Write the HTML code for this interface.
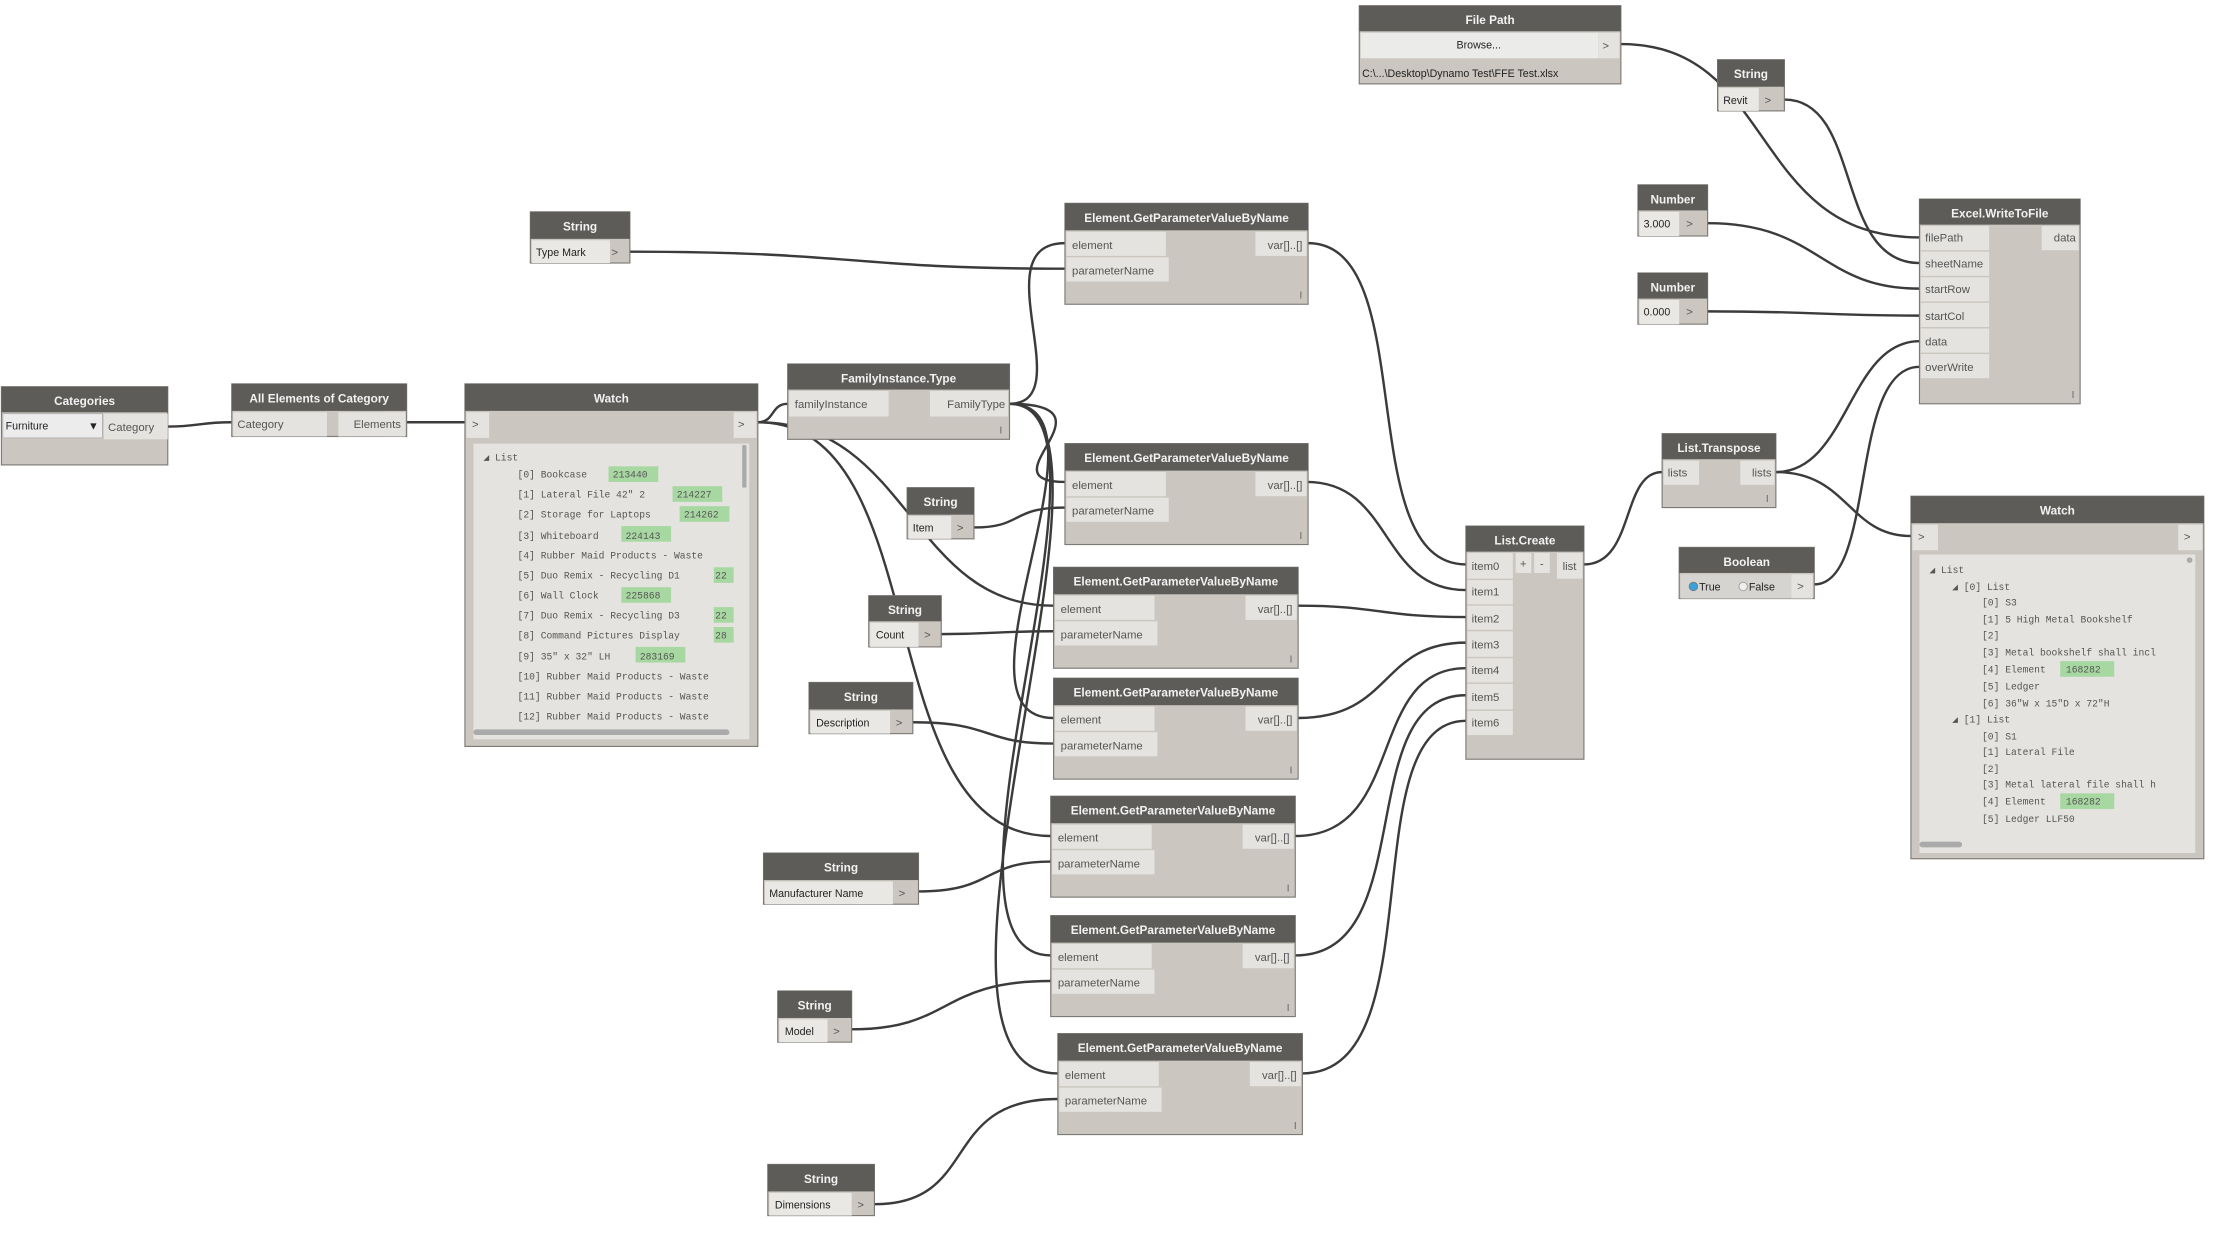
<!DOCTYPE html>
<html><head><meta charset="utf-8"><style>
html,body{margin:0;padding:0;background:#fff;}
svg{display:block;}
.h{font:bold 8.3px "Liberation Sans",sans-serif;fill:#f2f2f2;text-anchor:middle;}
.t{font:8px "Liberation Sans",sans-serif;fill:#555;}
.k{font:7.5px "Liberation Sans",sans-serif;fill:#222;}
.m{font:6.8px "Liberation Mono",monospace;fill:#555;}
.p{fill:#e4e3df;}
.b{fill:#cbc6bf;stroke:#7d7a76;stroke-width:0.8;}
.hd{fill:#5d5c59;}
.w{fill:none;stroke:#3b3b3b;stroke-width:1.7;}
.g{fill:#a8d8a2;}
.s{font:7px "Liberation Sans",sans-serif;fill:#666;}
</style></head><body>
<svg width="2228" height="1252" viewBox="0 0 1567 880.6" preserveAspectRatio="none" xmlns="http://www.w3.org/2000/svg">
<rect width="1567" height="881" fill="#fff"/>
<!-- wires -->
<g class="w">
<path d="M118,300 C140,300 140,297 163,297"/>
<path d="M286,297 C305,297 305,297 327,297"/>
<path d="M533,297 C545,297 542,284 554,284"/>
<path d="M533,297 C640,297 640,426 741,426"/>
<path d="M533,297 C660,297 610,588 739,588"/>
<path d="M710,284 C760,284 690,171 749,171"/>
<path d="M710,284 C790,284 690,339 749,339"/>
<path d="M710,284 C790,284 660,505 741,505"/>
<path d="M710,284 C800,284 640,672 739,672"/>
<path d="M710,284 C810,284 620,755 744,755"/>
<path d="M443,177 C600,177 600,189 749,189"/>
<path d="M685,371 C720,371 710,357 749,357"/>
<path d="M662,446 C700,446 700,444 741,444"/>
<path d="M642,508 C700,508 690,523 741,523"/>
<path d="M646,627 C700,627 690,606 739,606"/>
<path d="M599,724 C670,724 660,690 739,690"/>
<path d="M615,847 C690,847 660,773 744,773"/>
<path d="M920,171 C1000,171 950,397 1031,397"/>
<path d="M919,339 C980,339 970,415 1031,415"/>
<path d="M913,426 C970,426 970,434 1031,434"/>
<path d="M913,505 C980,505 970,452 1031,452"/>
<path d="M911,588 C990,588 960,470 1031,470"/>
<path d="M911,672 C1000,672 950,489 1031,489"/>
<path d="M916,755 C1010,755 950,507 1031,507"/>
<path d="M1114,397 C1150,397 1140,332 1169,332"/>
<path d="M1249,332 C1300,332 1300,240 1350,240"/>
<path d="M1249,332 C1300,332 1300,377 1344,377"/>
<path d="M1276,411 C1320,411 1300,258 1350,258"/>
<path d="M1140,31 C1250,31 1230,167 1350,167"/>
<path d="M1255,70 C1310,70 1290,185 1350,185"/>
<path d="M1201,157 C1280,157 1280,203 1350,203"/>
<path d="M1201,219 C1280,219 1280,222 1350,222"/>
</g>

<!-- Categories -->
<g transform="translate(1,272)">
<rect class="b" width="117" height="55"/><rect class="hd" width="117" height="18"/>
<text class="h" x="58.5" y="13">Categories</text>
<rect x="1" y="19" width="70" height="17" fill="#ececec" stroke="#aaa" stroke-width="0.5"/>
<text class="k" x="3" y="30">Furniture</text><text class="k" x="61" y="30" font-size="6">▼</text>
<rect class="p" x="72" y="19" width="45" height="18"/><text class="t" x="75" y="31">Category</text>
</g>
<!-- All Elements -->
<g transform="translate(163,270)">
<rect class="b" width="123" height="37"/><rect class="hd" width="123" height="19"/>
<text class="h" x="61.5" y="13">All Elements of Category</text>
<rect class="p" x="1" y="20" width="66" height="17"/><text class="t" x="4" y="31">Category</text>
<rect class="p" x="107" y="20" width="15" height="17"/><rect class="p" x="75" y="20" width="47" height="17"/><text class="t" x="119" y="31" text-anchor="end">Elements</text>
</g>
<!-- Watch left -->
<g transform="translate(327,270)">
<rect class="b" width="206" height="255"/><rect class="hd" width="206" height="19"/>
<text class="h" x="103" y="13">Watch</text>
<rect class="p" x="1" y="20" width="16" height="18"/><text class="t" x="5" y="31">&gt;</text>
<rect class="p" x="189" y="20" width="16" height="18"/><text class="t" x="192" y="31">&gt;</text>
<rect x="6" y="42" width="194" height="208" fill="#e4e3df"/>
<rect x="195" y="43" width="3" height="30" fill="#aaa" rx="1"/>
<rect x="6" y="243" width="180" height="4" fill="#aaa" rx="2"/>
<text class="m" x="13" y="54">◢ List</text>
<g class="m">
<text x="37" y="66">[0] Bookcase</text>
<text x="37" y="80">[1] Lateral File 42" 2</text>
<text x="37" y="94">[2] Storage for Laptops</text>
<text x="37" y="109">[3] Whiteboard</text>
<text x="37" y="123">[4] Rubber Maid Products - Waste</text>
<text x="37" y="137">[5] Duo Remix - Recycling D1</text>
<text x="37" y="151">[6] Wall Clock</text>
<text x="37" y="165">[7] Duo Remix - Recycling D3</text>
<text x="37" y="179">[8] Command Pictures Display</text>
<text x="37" y="194">[9] 35" x 32" LH</text>
<text x="37" y="208">[10] Rubber Maid Products - Waste</text>
<text x="37" y="222">[11] Rubber Maid Products - Waste</text>
<text x="37" y="236">[12] Rubber Maid Products - Waste</text>
</g>
<rect class="g" x="101" y="58" width="35" height="11"/><text class="m" x="104" y="66">213440</text>
<rect class="g" x="146" y="72" width="35" height="11"/><text class="m" x="149" y="80">214227</text>
<rect class="g" x="151" y="86" width="35" height="11"/><text class="m" x="154" y="94">214262</text>
<rect class="g" x="110" y="100" width="35" height="11"/><text class="m" x="113" y="109">224143</text>
<rect class="g" x="175" y="129" width="14" height="11"/><text class="m" x="176" y="137">22</text>
<rect class="g" x="110" y="143" width="35" height="11"/><text class="m" x="113" y="151">225868</text>
<rect class="g" x="175" y="157" width="14" height="11"/><text class="m" x="176" y="165">22</text>
<rect class="g" x="175" y="171" width="14" height="11"/><text class="m" x="176" y="179">28</text>
<rect class="g" x="120" y="185" width="35" height="11"/><text class="m" x="123" y="194">283169</text>
</g>
<!-- FamilyInstance.Type -->
<g transform="translate(554,256)">
<rect class="b" width="156" height="53"/><rect class="hd" width="156" height="18"/>
<text class="h" x="78" y="13">FamilyInstance.Type</text>
<rect class="p" x="1" y="19" width="70" height="18"/><text class="t" x="5" y="31">familyInstance</text>
<rect class="p" x="100" y="19" width="55" height="18"/><text class="t" x="153" y="31" text-anchor="end">FamilyType</text>
<text class="s" x="149" y="49">I</text>
</g>

<!-- String nodes -->
<g transform="translate(373,149)"><rect class="b" width="70" height="36"/><rect class="hd" width="70" height="19"/><text class="h" x="35" y="13">String</text><rect x="1" y="20" width="55" height="16" fill="#e9e8e5"/><text class="k" x="4" y="31">Type Mark</text><text class="t" x="57" y="31">&gt;</text></g>
<g transform="translate(638,343)"><rect class="b" width="47" height="36"/><rect class="hd" width="47" height="19"/><text class="h" x="23.5" y="13">String</text><rect x="1" y="20" width="30" height="16" fill="#e9e8e5"/><text class="k" x="4" y="31">Item</text><text class="t" x="35" y="31">&gt;</text></g>
<g transform="translate(611,419)"><rect class="b" width="51" height="36"/><rect class="hd" width="51" height="18"/><text class="h" x="25.5" y="13">String</text><rect x="1" y="19" width="34" height="17" fill="#e9e8e5"/><text class="k" x="5" y="30">Count</text><text class="t" x="39" y="30">&gt;</text></g>
<g transform="translate(569,480)"><rect class="b" width="73" height="36"/><rect class="hd" width="73" height="19"/><text class="h" x="36.5" y="13">String</text><rect x="1" y="20" width="56" height="16" fill="#e9e8e5"/><text class="k" x="5" y="31">Description</text><text class="t" x="61" y="31">&gt;</text></g>
<g transform="translate(537,600)"><rect class="b" width="109" height="36"/><rect class="hd" width="109" height="19"/><text class="h" x="54.5" y="13">String</text><rect x="1" y="20" width="90" height="16" fill="#e9e8e5"/><text class="k" x="4" y="31">Manufacturer Name</text><text class="t" x="95" y="31">&gt;</text></g>
<g transform="translate(547,697)"><rect class="b" width="52" height="36"/><rect class="hd" width="52" height="19"/><text class="h" x="26" y="13">String</text><rect x="1" y="20" width="34" height="16" fill="#e9e8e5"/><text class="k" x="5" y="31">Model</text><text class="t" x="39" y="31">&gt;</text></g>
<g transform="translate(540,819)"><rect class="b" width="75" height="36"/><rect class="hd" width="75" height="19"/><text class="h" x="37.5" y="13">String</text><rect x="1" y="20" width="58" height="16" fill="#e9e8e5"/><text class="k" x="5" y="31">Dimensions</text><text class="t" x="63" y="31">&gt;</text></g>

<!-- GetParameter nodes -->
<g transform="translate(749,143)"><rect class="b" width="171" height="71"/><rect class="hd" width="171" height="19"/><text class="h" x="85.5" y="13">Element.GetParameterValueByName</text><rect class="p" x="1" y="20" width="70" height="17"/><text class="t" x="5" y="32">element</text><rect class="p" x="1" y="38" width="72" height="17"/><text class="t" x="5" y="50">parameterName</text><rect class="p" x="134" y="20" width="36" height="17"/><text class="t" x="167" y="32" text-anchor="end">var[]..[]</text><text class="s" x="165" y="67">I</text></g>
<g transform="translate(749,312)"><rect class="b" width="171" height="71"/><rect class="hd" width="171" height="19"/><text class="h" x="85.5" y="13">Element.GetParameterValueByName</text><rect class="p" x="1" y="20" width="70" height="17"/><text class="t" x="5" y="32">element</text><rect class="p" x="1" y="38" width="72" height="17"/><text class="t" x="5" y="50">parameterName</text><rect class="p" x="134" y="20" width="36" height="17"/><text class="t" x="167" y="32" text-anchor="end">var[]..[]</text><text class="s" x="165" y="67">I</text></g>
<g transform="translate(741,399)"><rect class="b" width="172" height="71"/><rect class="hd" width="172" height="19"/><text class="h" x="86" y="13">Element.GetParameterValueByName</text><rect class="p" x="1" y="20" width="70" height="17"/><text class="t" x="5" y="32">element</text><rect class="p" x="1" y="38" width="72" height="17"/><text class="t" x="5" y="50">parameterName</text><rect class="p" x="135" y="20" width="36" height="17"/><text class="t" x="168" y="32" text-anchor="end">var[]..[]</text><text class="s" x="166" y="67">I</text></g>
<g transform="translate(741,477)"><rect class="b" width="172" height="71"/><rect class="hd" width="172" height="19"/><text class="h" x="86" y="13">Element.GetParameterValueByName</text><rect class="p" x="1" y="20" width="70" height="17"/><text class="t" x="5" y="32">element</text><rect class="p" x="1" y="38" width="72" height="17"/><text class="t" x="5" y="50">parameterName</text><rect class="p" x="135" y="20" width="36" height="17"/><text class="t" x="168" y="32" text-anchor="end">var[]..[]</text><text class="s" x="166" y="67">I</text></g>
<g transform="translate(739,560)"><rect class="b" width="172" height="71"/><rect class="hd" width="172" height="19"/><text class="h" x="86" y="13">Element.GetParameterValueByName</text><rect class="p" x="1" y="20" width="70" height="17"/><text class="t" x="5" y="32">element</text><rect class="p" x="1" y="38" width="72" height="17"/><text class="t" x="5" y="50">parameterName</text><rect class="p" x="135" y="20" width="36" height="17"/><text class="t" x="168" y="32" text-anchor="end">var[]..[]</text><text class="s" x="166" y="67">I</text></g>
<g transform="translate(739,644)"><rect class="b" width="172" height="71"/><rect class="hd" width="172" height="19"/><text class="h" x="86" y="13">Element.GetParameterValueByName</text><rect class="p" x="1" y="20" width="70" height="17"/><text class="t" x="5" y="32">element</text><rect class="p" x="1" y="38" width="72" height="17"/><text class="t" x="5" y="50">parameterName</text><rect class="p" x="135" y="20" width="36" height="17"/><text class="t" x="168" y="32" text-anchor="end">var[]..[]</text><text class="s" x="166" y="67">I</text></g>
<g transform="translate(744,727)"><rect class="b" width="172" height="71"/><rect class="hd" width="172" height="19"/><text class="h" x="86" y="13">Element.GetParameterValueByName</text><rect class="p" x="1" y="20" width="70" height="17"/><text class="t" x="5" y="32">element</text><rect class="p" x="1" y="38" width="72" height="17"/><text class="t" x="5" y="50">parameterName</text><rect class="p" x="135" y="20" width="36" height="17"/><text class="t" x="168" y="32" text-anchor="end">var[]..[]</text><text class="s" x="166" y="67">I</text></g>

<!-- List.Create -->
<g transform="translate(1031,370)">
<rect class="b" width="83" height="164"/><rect class="hd" width="83" height="18"/>
<text class="h" x="41.5" y="13">List.Create</text>
<rect class="p" x="1" y="19" width="32" height="18"/><text class="t" x="4" y="31">item0</text>
<rect class="p" x="35" y="19" width="11" height="14"/><text class="t" x="38" y="29">+</text>
<rect class="p" x="48" y="19" width="11" height="14"/><text class="t" x="52" y="29">-</text>
<rect class="p" x="64" y="19" width="18" height="18"/><text class="t" x="68" y="31">list</text>
<rect class="p" x="1" y="38" width="32" height="17"/><text class="t" x="4" y="49">item1</text>
<rect class="p" x="1" y="56" width="32" height="17"/><text class="t" x="4" y="68">item2</text>
<rect class="p" x="1" y="74" width="32" height="18"/><text class="t" x="4" y="86">item3</text>
<rect class="p" x="1" y="93" width="32" height="17"/><text class="t" x="4" y="104">item4</text>
<rect class="p" x="1" y="111" width="32" height="18"/><text class="t" x="4" y="123">item5</text>
<rect class="p" x="1" y="130" width="32" height="17"/><text class="t" x="4" y="141">item6</text>
</g>
<!-- File Path -->
<g transform="translate(956,4)">
<rect class="b" width="184" height="55"/><rect class="hd" width="184" height="18"/>
<text class="h" x="92" y="13">File Path</text>
<rect x="1" y="19" width="167" height="18" fill="#ebebea"/><text class="k" x="84" y="30" text-anchor="middle">Browse...</text>
<rect class="p" x="168" y="19" width="15" height="18"/><text class="t" x="171" y="31">&gt;</text>
<text class="k" x="2" y="50">C:\...\Desktop\Dynamo Test\FFE Test.xlsx</text>
</g>
<g transform="translate(1208,42)"><rect class="b" width="47" height="36"/><rect class="hd" width="47" height="19"/><text class="h" x="23.5" y="13">String</text><rect x="1" y="20" width="28" height="16" fill="#e9e8e5"/><text class="k" x="4" y="31">Revit</text><text class="t" x="33" y="31">&gt;</text></g>
<g transform="translate(1152,130)"><rect class="b" width="49" height="36"/><rect class="hd" width="49" height="18"/><text class="h" x="24.5" y="13">Number</text><rect x="1" y="19" width="28" height="17" fill="#e9e8e5"/><text class="k" x="4" y="30">3.000</text><text class="t" x="34" y="30">&gt;</text></g>
<g transform="translate(1152,192)"><rect class="b" width="49" height="36"/><rect class="hd" width="49" height="18"/><text class="h" x="24.5" y="13">Number</text><rect x="1" y="19" width="28" height="17" fill="#e9e8e5"/><text class="k" x="4" y="30">0.000</text><text class="t" x="34" y="30">&gt;</text></g>
<!-- Excel.WriteToFile -->
<g transform="translate(1350,140)">
<rect class="b" width="113" height="144"/><rect class="hd" width="113" height="18"/>
<text class="h" x="56.5" y="13">Excel.WriteToFile</text>
<rect class="p" x="1" y="19" width="48" height="17"/><text class="t" x="4" y="30">filePath</text>
<rect class="p" x="1" y="37" width="48" height="17"/><text class="t" x="4" y="48">sheetName</text>
<rect class="p" x="1" y="55" width="48" height="17"/><text class="t" x="4" y="66">startRow</text>
<rect class="p" x="1" y="73" width="48" height="17"/><text class="t" x="4" y="85">startCol</text>
<rect class="p" x="1" y="91" width="48" height="17"/><text class="t" x="4" y="103">data</text>
<rect class="p" x="1" y="109" width="48" height="17"/><text class="t" x="4" y="121">overWrite</text>
<rect class="p" x="86" y="19" width="26" height="17"/><text class="t" x="110" y="30" text-anchor="end">data</text>
<text class="s" x="107" y="140">I</text>
</g>
<!-- List.Transpose -->
<g transform="translate(1169,305)">
<rect class="b" width="80" height="52"/><rect class="hd" width="80" height="18"/>
<text class="h" x="40" y="13">List.Transpose</text>
<rect class="p" x="1" y="19" width="25" height="17"/><text class="t" x="4" y="30">lists</text>
<rect class="p" x="55" y="19" width="24" height="17"/><text class="t" x="77" y="30" text-anchor="end">lists</text>
<text class="s" x="73" y="48">I</text>
</g>
<!-- Boolean -->
<g transform="translate(1181,385)">
<rect class="b" width="95" height="36"/><rect class="hd" width="95" height="18"/>
<text class="h" x="47.5" y="13">Boolean</text>
<rect x="1" y="19" width="78" height="17" fill="#d6d4d0"/>
<circle cx="10" cy="27.5" r="3" fill="#3aa2d6" stroke="#777" stroke-width="0.6"/><text class="k" x="14" y="30.5">True</text>
<circle cx="45" cy="27.5" r="3" fill="#eee" stroke="#999" stroke-width="0.6"/><text class="k" x="49" y="30.5">False</text>
<rect class="p" x="79" y="19" width="15" height="17"/><text class="t" x="83" y="30">&gt;</text>
</g>
<!-- Watch right -->
<g transform="translate(1344,349)">
<rect class="b" width="206" height="255"/><rect class="hd" width="206" height="19"/>
<text class="h" x="103" y="13">Watch</text>
<rect class="p" x="1" y="20" width="18" height="18"/><text class="t" x="5" y="31">&gt;</text>
<rect class="p" x="188" y="20" width="17" height="18"/><text class="t" x="192" y="31">&gt;</text>
<rect x="6" y="41" width="194" height="210" fill="#e4e3df"/>
<circle cx="196" cy="45" r="2" fill="#aaa"/>
<rect x="6" y="243" width="30" height="4" fill="#aaa" rx="2"/>
<g class="m">
<text x="13" y="54">◢ List</text>
<text x="29" y="66">◢ [0] List</text>
<text x="50" y="77">[0] S3</text>
<text x="50" y="89">[1] 5 High Metal Bookshelf</text>
<text x="50" y="100">[2]</text>
<text x="50" y="112">[3] Metal bookshelf shall incl</text>
<text x="50" y="124">[4] Element</text>
<text x="50" y="136">[5] Ledger</text>
<text x="50" y="148">[6] 36"W x 15"D x 72"H</text>
<text x="29" y="159">◢ [1] List</text>
<text x="50" y="171">[0] S1</text>
<text x="50" y="182">[1] Lateral File</text>
<text x="50" y="194">[2]</text>
<text x="50" y="205">[3] Metal lateral file shall h</text>
<text x="50" y="217">[4] Element</text>
<text x="50" y="229">[5] Ledger LLF50</text>
</g>
<rect class="g" x="105" y="116" width="38" height="11"/><text class="m" x="109" y="124">168282</text>
<rect class="g" x="105" y="209" width="38" height="11"/><text class="m" x="109" y="217">168282</text>
</g>
</svg>
</body></html>
